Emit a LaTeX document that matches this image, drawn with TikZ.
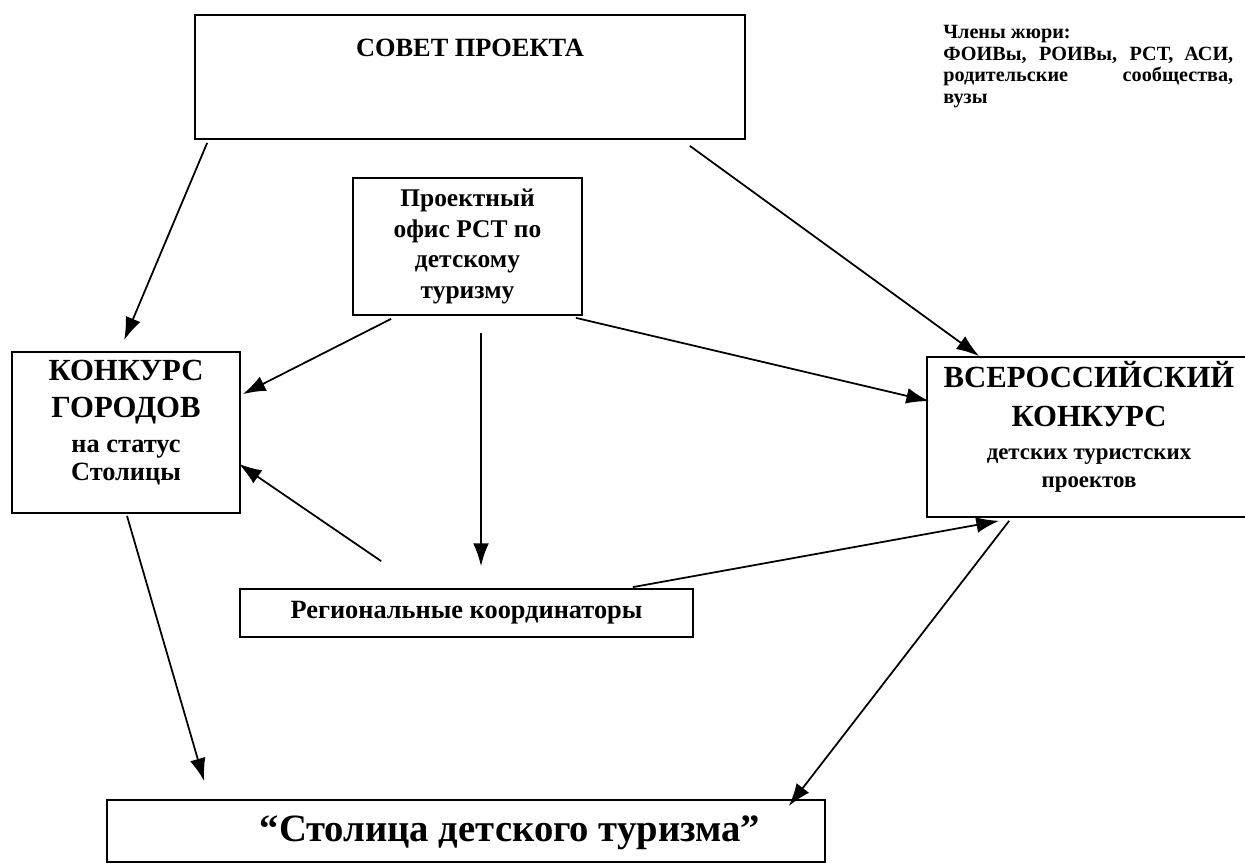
\documentclass[tikz,border=0pt]{standalone}
\usepackage{fontspec}
\setmainfont{Liberation Serif}
\usetikzlibrary{arrows.meta,calc}
\tikzset{>={Latex[length=13pt,width=9pt]}}

\begin{document}
\begin{tikzpicture}[x=0.02cm,y=-0.02cm,
    box/.style={draw,line width=1pt,inner sep=0pt,align=center,font=\bfseries},
    link/.style={line width=1pt,->}]
  \useasboundingbox (0,0) rectangle (1245,868);
  % boxes
  \node[box,minimum width=11cm,minimum height=2.48cm] (sovet) at (470,77) {};
  \node[font={\bfseries\fontsize{15}{18}\selectfont}] (sovettitle) at (470,48) {СОВЕТ ПРОЕКТА};
  \node[box,minimum width=4.58cm,minimum height=2.74cm,font={\bfseries\fontsize{14.5}{17.6}\selectfont}] (ofis) at (467.5,246.5)
    {Проектный\\офис РСТ по\\детскому\\туризму};
  \node[box,minimum width=4.56cm,minimum height=3.22cm] (goroda) at (126,432.5) {};
  \node[align=center,font={\bfseries\fontsize{17.5}{21}\selectfont}] (gorodatitle) at (126,423)
    {КОНКУРС\\ГОРОДОВ\\[-1pt]{\fontsize{15}{16}\selectfont на статус}\\[-5pt]{\fontsize{15}{16}\selectfont Столицы}};
  \node[box,minimum width=6.6cm,minimum height=3.2cm] (vseros) at (1092,437) {};
  \node[align=center,font={\bfseries\fontsize{17.5}{22}\selectfont}] (vserostitle) at (1089,427)
    {ВСЕРОССИЙСКИЙ\\КОНКУРС\\[-3pt]{\fontsize{13}{16}\selectfont детских туристских}\\[-6pt]{\fontsize{13}{16}\selectfont проектов}};
  \node[box,minimum width=9.06cm,minimum height=0.96cm,font={\bfseries\fontsize{15}{18}\selectfont}] (koord) at (466.5,613)
    {Региональные координаторы};
  \node[box,minimum width=14.36cm,minimum height=1.24cm] (stolica) at (466,831) {};
  \node[font={\bfseries\fontsize{22}{26}\selectfont}] (stolicatitle) at (510,833) {“Столица детского туризма”};
  \node[anchor=north west,inner sep=0pt,text width=165pt,align=justify,
        font={\bfseries\fontsize{11.5}{12.3}\selectfont}] (zhuri) at (943,25)
    {Члены жюри:\\ФОИВы, РОИВы, РСТ, АСИ,\linebreak родительские сообщества,\linebreak вузы};
  % arrows
  \draw[link] ($(sovet.south west)+(13,3)$) -- ($(goroda.north west)+(113,-11)$);
  \draw[link] ($(sovet.south east)+(-56,6)$) -- ($(vseros.north west)+(53,0)$);
  \draw[link] ($(ofis.south west)+(39,3)$) -- ($(goroda.north east)+(2,43)$);
  \draw[link] ($(ofis.south)+(13.5,17)$) -- ($(koord.north)+(14.5,-22)$);
  \draw[link] ($(ofis.south east)+(-7,2)$) -- ($(vseros.north west)+(3,45)$);
  \draw[link] ($(koord.north west)+(142,-27)$) -- ($(goroda.south east)+(-2,-50)$);
  \draw[link] ($(koord.north east)+(-61,-1)$) -- ($(vseros.south west)+(73,3)$);
  \draw[link] ($(goroda.south)+(1,2)$) -- ($(stolica.north west)+(98,-18)$);
  \draw[link] ($(vseros.south west)+(83,3)$) -- ($(stolica.north east)+(-37,7)$);
\end{tikzpicture}
\end{document}
